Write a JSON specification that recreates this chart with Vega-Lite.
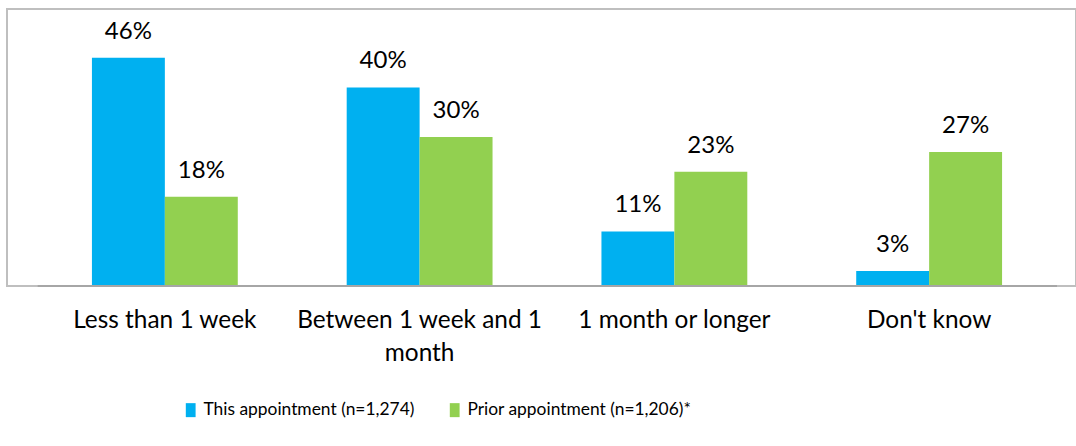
{
  "$schema": "https://vega.github.io/schema/vega-lite/v6.json",
  "width": 1069,
  "height": 277,
  "autosize": {"type": "none"},
  "padding": {"left": 7, "top": 9, "right": 0, "bottom": 160},
  "background": "white",
  "config": {
    "view": {"stroke": "#BFBFBF", "strokeWidth": 2},
    "font": "Lato",
    "text": {"font": "Lato"}
  },
  "data": {
    "values": [
      {"cat": "Less than 1 week", "series": "This appointment (n=1,274)", "value": 0.46},
      {"cat": "Less than 1 week", "series": "Prior appointment (n=1,206)*", "value": 0.18},
      {"cat": "Between 1 week and 1 month", "series": "This appointment (n=1,274)", "value": 0.40},
      {"cat": "Between 1 week and 1 month", "series": "Prior appointment (n=1,206)*", "value": 0.30},
      {"cat": "1 month or longer", "series": "This appointment (n=1,274)", "value": 0.11},
      {"cat": "1 month or longer", "series": "Prior appointment (n=1,206)*", "value": 0.23},
      {"cat": "Don't know", "series": "This appointment (n=1,274)", "value": 0.03},
      {"cat": "Don't know", "series": "Prior appointment (n=1,206)*", "value": 0.27}
    ]
  },
  "encoding": {
    "x": {
      "field": "cat",
      "type": "nominal",
      "sort": null,
      "scale": {"paddingInner": 0.4275, "paddingOuter": 0.3118, "align": 0.5346},
      "axis": {
        "title": null,
        "domain": false,
        "ticks": false,
        "labelAngle": 0,
        "labelFontSize": 24.4,
        "labelColor": "#000000",
        "labelPadding": 22,
        "labelLimit": 400,
        "labelLineHeight": 33,
        "labelFont": "Lato",
        "labelExpr": "datum.value == 'Between 1 week and 1 month' ? ['Between 1 week and 1', 'month'] : datum.label"
      }
    },
    "y": {
      "field": "value",
      "type": "quantitative",
      "scale": {"domain": [0, 0.558], "nice": false, "zero": true},
      "axis": null
    }
  },
  "layer": [
    {
      "mark": {"type": "bar"},
      "encoding": {
        "xOffset": {"field": "series", "sort": ["This appointment (n=1,274)", "Prior appointment (n=1,206)*"]},
        "color": {
          "field": "series",
          "type": "nominal",
          "sort": ["This appointment (n=1,274)", "Prior appointment (n=1,206)*"],
          "scale": {"domain": ["This appointment (n=1,274)", "Prior appointment (n=1,206)*"], "range": ["#00B0F0", "#92D050"]},
          "legend": {
            "title": null,
            "orient": "none",
            "legendX": 175,
            "legendY": 392,
            "direction": "horizontal",
            "columnPadding": 31,
            "labelFontSize": 17.4,
            "labelFont": "Lato",
            "labelColor": "#000000",
            "labelOffset": 4,
            "labelLimit": 400,
            "symbolType": "M-0.7,-1H0.7V1H-0.7Z",
            "symbolSize": 196,
            "symbolStrokeWidth": 0
          }
        }
      }
    },
    {
      "mark": {"type": "text", "baseline": "alphabetic", "dy": -19, "fontSize": 24, "color": "#000000"},
      "encoding": {
        "xOffset": {"field": "series", "sort": ["This appointment (n=1,274)", "Prior appointment (n=1,206)*"]},
        "text": {"field": "value", "type": "quantitative", "format": ".0%"}
      }
    },
    {
      "mark": {"type": "rule", "color": "#A6A6A6", "strokeWidth": 2},
      "encoding": {
        "x": {"datum": "Less than 1 week", "bandPosition": -0.37},
        "x2": {"datum": "Don't know", "bandPosition": 1.375},
        "y": {"datum": 0}
      }
    }
  ]
}
